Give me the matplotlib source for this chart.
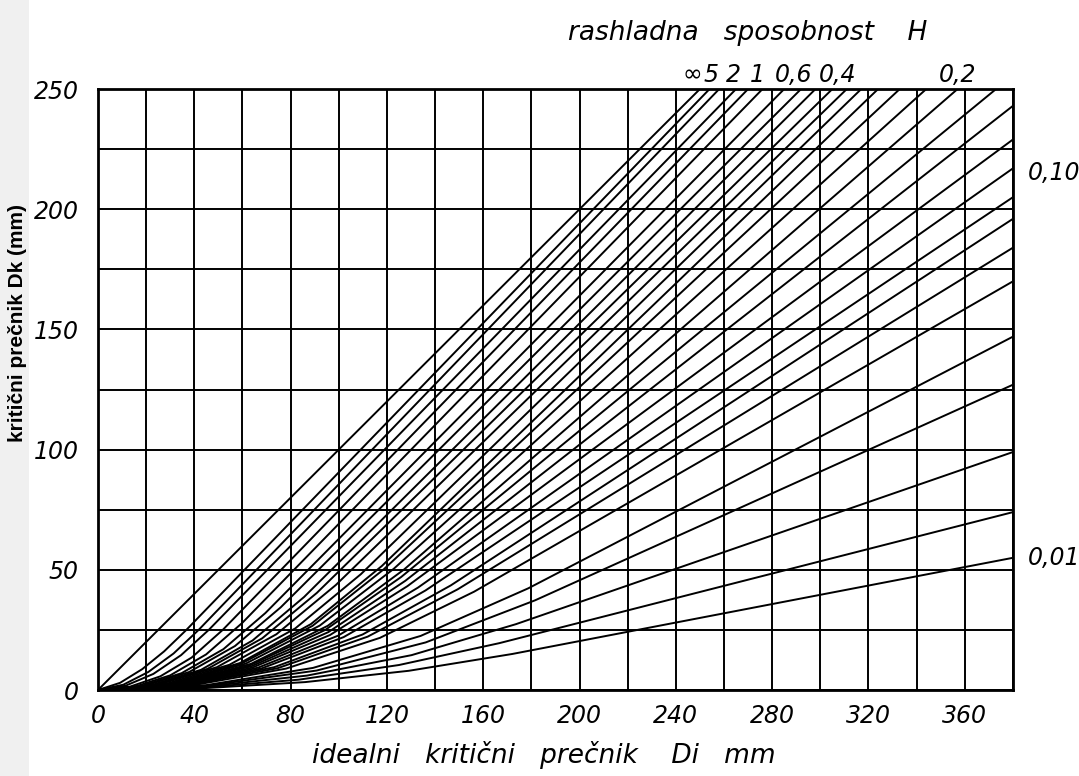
import matplotlib
matplotlib.use("Agg")
import matplotlib.pyplot as plt
from matplotlib.patches import Rectangle

# krivulje H: (Di tocke, Dk tocke) ocitane s dijagrama
# krivulje koje izlaze na gornji rub (Dk = 250)
h_inf = ([0, 250], [0, 250])
top2 = ([0, 9.2, 18.4, 27.5, 36.7, 254], [0, 3.0, 8.7, 16.1, 25, 250])
top3 = ([0, 10.5, 20.9, 31.4, 41.8, 258], [0, 2.2, 7.5, 15.2, 25, 250])
top4 = ([0, 11.5, 23.0, 34.5, 46.0, 265], [0, 1.8, 6.7, 14.5, 25, 250])
top5 = ([0, 13.0, 25.9, 38.9, 51.8, 270], [0, 1.3, 5.7, 13.5, 25, 250])
top6 = ([0, 15.0, 30.0, 44.9, 59.9, 276], [0, 1.3, 6.1, 14.8, 27.9, 250])
top7 = ([0, 17.4, 34.7, 52.1, 69.5, 285], [0, 1.5, 7.0, 17.0, 32.0, 250])
top8 = ([0, 19.0, 37.9, 56.9, 75.9, 292], [0, 1.6, 7.5, 18.3, 34.4, 250])
top9 = ([0, 21.4, 42.8, 64.2, 85.6, 298], [0, 1.8, 8.4, 20.6, 38.7, 250])
top10 = ([0, 22.7, 45.5, 68.2, 90.9, 305], [0, 1.9, 8.8, 21.5, 40.4, 250])
top11 = ([0, 24.7, 49.4, 74.1, 98.8, 311], [0, 2.1, 9.5, 23.2, 43.7, 250])
top12 = ([0, 27.3, 54.6, 81.9, 109.2, 317], [0, 2.3, 10.5, 25.6, 48.2, 250])
top13 = ([0, 29.5, 58.9, 88.4, 117.9, 324], [0, 2.4, 11.2, 27.4, 51.6, 250])
top14 = ([0, 29.7, 59.4, 89.1, 118.8, 333], [0, 2.4, 10.9, 26.7, 50.3, 250])
top15 = ([0, 30.7, 61.4, 92.1, 122.8, 344], [0, 2.4, 11.0, 26.8, 50.4, 250])
top16 = ([0, 31.8, 63.6, 95.4, 127.2, 357], [0, 2.4, 10.9, 26.7, 50.2, 250])
top17 = ([0, 31.5, 63.0, 94.4, 125.9, 373], [0, 2.2, 10.2, 25.0, 47.0, 250])

# krivulje koje izlaze na desni rub (Di = 380)
right1 = ([0, 31.9, 63.8, 95.7, 127.6, 380], [0, 2.2, 9.9, 24.1, 45.4, 243])
right2 = ([0, 32.1, 64.3, 96.4, 128.5, 380], [0, 2.0, 9.4, 22.9, 43.2, 229])
right3 = ([0, 33.2, 66.5, 99.7, 132.9, 380], [0, 2.0, 9.3, 22.6, 42.6, 217])
right4 = ([0, 34.0, 68.0, 102.0, 136.0, 380], [0, 2.0, 9.0, 22.0, 41.4, 205])
right5 = ([0, 36.6, 73.2, 109.9, 146.5, 380], [0, 2.1, 9.5, 23.1, 43.5, 196])
right6 = ([0, 37.4, 74.7, 112.0, 149.4, 380], [0, 2.0, 9.1, 22.2, 41.9, 184])
right7 = ([0, 39.0, 78.1, 117.1, 156.2, 380], [0, 1.9, 8.9, 21.7, 40.9, 170])
right8 = ([0, 44.7, 89.3, 134.0, 178.7, 380], [0, 2.0, 9.2, 22.5, 42.3, 147])
right9 = ([0, 45.4, 90.8, 136.1, 181.5, 380], [0, 1.8, 8.1, 19.8, 37.3, 127])
right10 = ([0, 43.4, 86.8, 130.2, 173.6, 380], [0, 1.3, 6.0, 14.5, 27.4, 99])
right11 = ([0, 41.7, 83.4, 125.0, 166.7, 380], [0, 0.9, 4.3, 10.4, 19.5, 74])
right12 = ([0, 43.0, 86.1, 129.1, 172.1, 380], [0, 0.7, 3.3, 8.0, 15.0, 55])

curves = [h_inf, top2, top3, top4, top5, top6, top7, top8, top9, top10, top11,
          top12, top13, top14, top15, top16, top17,
          right1, right2, right3, right4, right5, right6, right7, right8,
          right9, right10, right11, right12]

# oznake rashladne sposobnosti H
h_top_labels = ["∞", "5", "2", "1", "0,6", "0,4", "0,2"]
h_top_pos = [247, 254.5, 264, 274, 289, 307, 357]
h_right_labels = ["0,10", "0,01"]
h_right_pos = [215, 55]

x_ticks = list(range(0, 361, 40))
y_ticks = list(range(0, 251, 50))

fnt = dict(family="DejaVu Sans", style="italic")

fig = plt.figure(figsize=(10.79, 7.76), dpi=100)
# svijetlo siva traka skena uz lijevi rub
fig.add_artist(Rectangle((0, 0), 0.027, 1, transform=fig.transFigure,
                         facecolor="#f0f0f0", edgecolor="none", zorder=0))
ax = fig.add_axes([0.0908, 0.1108, 0.8480, 0.7745])

for di, dk in curves:
    ax.plot(di, dk, color="black", lw=1.4, solid_joinstyle="round")

ax.set_xlim(0, 380)
ax.set_ylim(0, 250)
ax.set_xticks(x_ticks)
ax.set_xticks(range(0, 381, 20), minor=True)
ax.set_yticks(y_ticks)
ax.set_yticks(range(0, 251, 25), minor=True)
ax.grid(True, which="both", color="black", lw=1.4)
ax.set_axisbelow(True)
ax.tick_params(which="both", length=0)
ax.tick_params(axis="x", pad=10)
ax.tick_params(axis="y", pad=14)
for lab in ax.get_xticklabels() + ax.get_yticklabels():
    lab.set_fontsize(17)
    lab.set_fontstyle("italic")
for s in ax.spines.values():
    s.set_linewidth(2)

fig.text(0.504, 0.027, "idealni   kritični   prečnik    Di   mm", ha="center",
         va="center", fontsize=19, **fnt)
fig.text(0.016, 0.584, "kritični prečnik Dk (mm)", rotation=90, ha="center",
         va="center", fontsize=15, fontweight="bold", family="Liberation Sans")
fig.text(0.693, 0.957, "rashladna   sposobnost    H", ha="center", va="center",
         fontsize=19, **fnt)

for lab, x in zip(h_top_labels, h_top_pos):
    ax.text(x, 256, lab, ha="center", va="center", fontsize=17, **fnt)
for lab, y in zip(h_right_labels, h_right_pos):
    ax.text(386, y, lab, ha="left", va="center", fontsize=17, clip_on=False, **fnt)

fig.savefig("out.png", dpi=100)
